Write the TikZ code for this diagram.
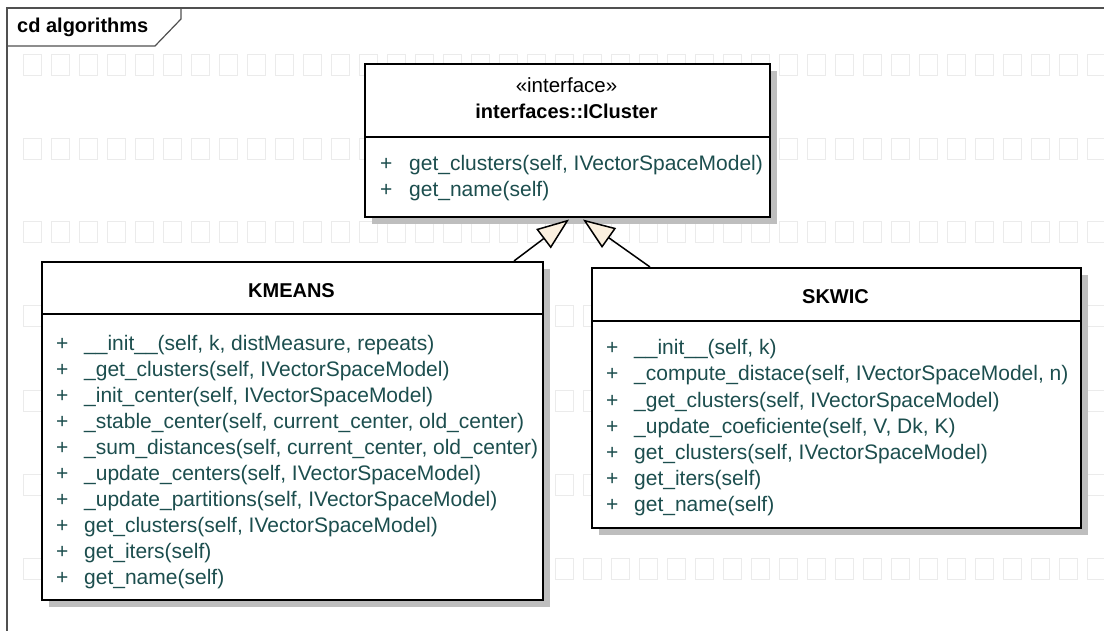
\documentclass[tikz,border=0pt]{standalone}
\usepackage{fontspec}
\setmainfont{Liberation Sans}
\usetikzlibrary{arrows.meta,calc,shadows}

\definecolor{membertext}{HTML}{1C4E4E}
\definecolor{gridline}{HTML}{EBEBEB}
\definecolor{shadowgray}{HTML}{BEBEBE}
\definecolor{tipfill}{HTML}{FBF0DF}
\definecolor{framegray}{HTML}{505050}

\tikzset{
  classbox/.style={draw=black, line width=2pt, fill=white, inner sep=0pt,
    anchor=north west,
    general shadow={fill=shadowgray, shadow xshift=7pt, shadow yshift=-7pt}},
  divider/.style={draw=black, line width=2pt},
  gridsq/.style={draw=gridline, line width=1pt},
  memberlabel/.style={font=\fontsize{21}{24}\selectfont, text=membertext,
    inner sep=0pt, anchor=base west},
  classtitle/.style={font=\fontsize{20}{24}\selectfont\bfseries, inner sep=0pt,
    anchor=base},
  stereo/.style={font=\fontsize{20.5}{24}\selectfont, inner sep=0pt, anchor=base},
  realize/.style={draw=black, line width=1.5pt,
    -{Triangle[length=32pt, width=24pt, fill=tipfill]}},
  framestroke/.style={draw=framegray, line width=1.2pt},
}

\begin{document}
\begin{tikzpicture}[x=1pt, y=-1pt]
  \useasboundingbox (0,0) rectangle (1104,631);
  \fill[white] (0,0) rectangle (1104,631);

  % faint background grid of small squares
  \foreach \r in {55,139,222,306,390,474,558}
    \foreach \k in {0,...,38}
      \draw[gridsq] ({23+28*\k},\r) rectangle +(18,21);

  % diagram frame with its name tab
  \draw[framestroke] (7,650) -- (7,8) -- (1120,8);
  \draw[framestroke] (7,46) -- (155,46) -- (181,19) -- (181,8);
  \node[font=\fontsize{20}{24}\selectfont\bfseries, inner sep=0pt, anchor=base west]
    (frametitle) at (17,33) {cd algorithms};

  % interface ICluster
  \node[classbox, minimum width=405pt, minimum height=153pt] (ic) at (364,63) {};
  \draw[divider] (ic.west |- 0,137) -- (ic.east |- 0,137);
  \node[stereo] (ic-stereo) at (566.5,93) {«interface»};
  \node[classtitle] (ic-name) at (566.5,119) {interfaces::ICluster};
  \foreach \txt [count=\i] in {
      {get\_clusters(self, IVectorSpaceModel)},
      {get\_name(self)}} {
    \node[memberlabel] (ic-p\i) at (380,{145+26*\i}) {+};
    \node[memberlabel] (ic-t\i) at (409,{145+26*\i}) {\txt};
  }

  % class KMEANS
  \node[classbox, minimum width=501pt, minimum height=338pt] (km) at (41,261) {};
  \draw[divider] (km.west |- 0,314) -- (km.east |- 0,314);
  \node[classtitle] (km-name) at (291.5,298) {KMEANS};
  \foreach \txt [count=\i] in {
      {\_\_init\_\_(self, k, distMeasure, repeats)},
      {\_get\_clusters(self, IVectorSpaceModel)},
      {\_init\_center(self, IVectorSpaceModel)},
      {\_stable\_center(self, current\_center, old\_center)},
      {\_sum\_distances(self, current\_center, old\_center)},
      {\_update\_centers(self, IVectorSpaceModel)},
      {\_update\_partitions(self, IVectorSpaceModel)},
      {get\_clusters(self, IVectorSpaceModel)},
      {get\_iters(self)},
      {get\_name(self)}} {
    \node[memberlabel] (km-p\i) at (56,{324+26*\i}) {+};
    \node[memberlabel] (km-t\i) at (84,{324+26*\i}) {\txt};
  }

  % class SKWIC
  \node[classbox, minimum width=489pt, minimum height=260pt] (sk) at (591,267) {};
  \draw[divider] (sk.west |- 0,321) -- (sk.east |- 0,321);
  \node[classtitle] (sk-name) at (835.5,304) {SKWIC};
  \foreach \txt [count=\i] in {
      {\_\_init\_\_(self, k)},
      {\_compute\_distace(self, IVectorSpaceModel, n)},
      {\_get\_clusters(self, IVectorSpaceModel)},
      {\_update\_coeficiente(self, V, Dk, K)},
      {get\_clusters(self, IVectorSpaceModel)},
      {get\_iters(self)},
      {get\_name(self)}} {
    \node[memberlabel] (sk-p\i) at (606,{329+26*\i}) {+};
    \node[memberlabel] (sk-t\i) at (634,{329+26*\i}) {\txt};
  }

  % realizations of the interface
  \draw[realize] ([xshift=-30pt]km.north east) -- ([xshift=1.5pt,yshift=-1.5pt]ic.south);
  \draw[realize] ([xshift=59pt]sk.north west) -- ([xshift=15.5pt,yshift=-1.5pt]ic.south);
\end{tikzpicture}
\end{document}
